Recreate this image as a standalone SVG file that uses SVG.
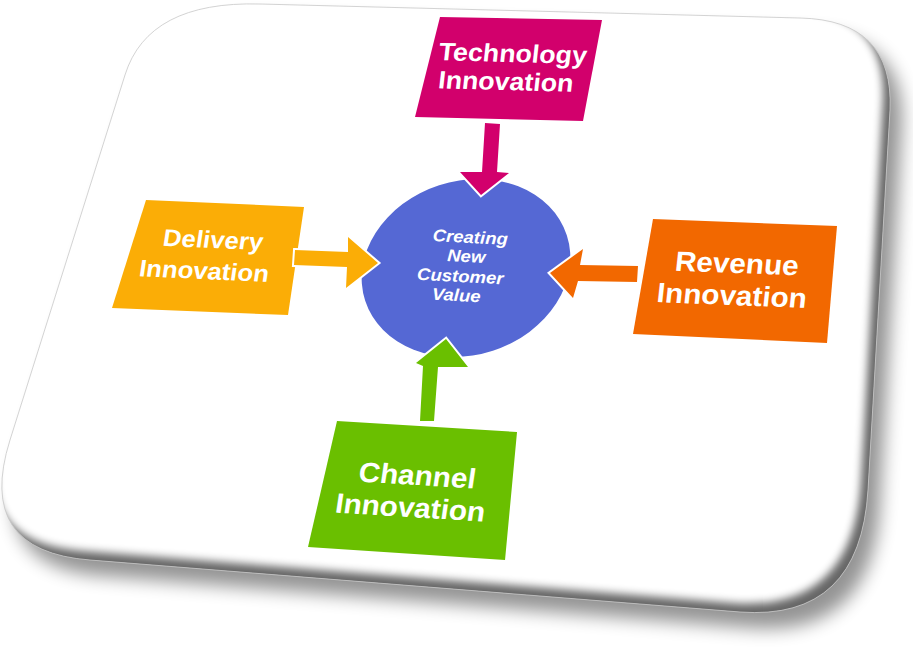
<svg xmlns="http://www.w3.org/2000/svg" width="913" height="667" viewBox="0 0 913 667">
<defs>
<style>
.lbl{font-family:"Liberation Sans",Arial,Helvetica,sans-serif;font-weight:bold;fill:#fff;text-anchor:middle}
.t25{font-size:25px}.t24{font-size:24px}.t28{font-size:28px}
.t17{font-size:17px;font-style:italic}
.arrow{stroke:#fff;stroke-width:4;stroke-linejoin:miter;paint-order:stroke}
</style>
<filter id="shadowBlur" x="-20%" y="-20%" width="140%" height="140%"><feGaussianBlur stdDeviation="9"/></filter>
<filter id="bevelBlur" x="-10%" y="-10%" width="120%" height="120%"><feGaussianBlur stdDeviation="4"/></filter>
<clipPath id="cardClip"><path d="M125,75 Q148,1 260,4 L800,18 Q894,20 890,110 L868,490 Q860,621 740,612 L90,560 Q-25,551 10,440 Z"/></clipPath>
</defs>
<rect width="913" height="667" fill="#fff"/>
<g id="card">
<path d="M125,75 Q148,1 260,4 L800,18 Q894,20 890,110 L868,490 Q860,621 740,612 L90,560 Q-25,551 10,440 Z" transform="translate(12,16)" fill="#000" opacity="0.42" filter="url(#shadowBlur)"/>
<path d="M125,75 Q148,1 260,4 L800,18 Q894,20 890,110 L868,490 Q860,621 740,612 L90,560 Q-25,551 10,440 Z" fill="#fff"/>
<g clip-path="url(#cardClip)">
<path fill-rule="evenodd" fill="#000" opacity="0.6" filter="url(#bevelBlur)" d="M-60,-60 H980 V730 H-60 Z M118,66 Q141,-8 253,-5 L793,9 Q887,11 883,101 L861,481 Q853,612 733,603 L83,551 Q-32,542 3,431 Z"/>
</g>
<path d="M125,75 Q148,1 260,4 L800,18 Q894,20 890,110 L868,490 Q860,621 740,612 L90,560 Q-25,551 10,440 Z" fill="none" stroke="#c8c8c8" stroke-width="0.8"/>
</g>
<g id="node-technology">
<polygon points="440,17 602,20 583,121 415,117" fill="#d2006c"/>
<text class="lbl t25" transform="translate(512,62) rotate(1.5) skewX(-5) scale(1.07,1)">Technology</text>
<text class="lbl t25" transform="translate(505,90) rotate(1.5) skewX(-5) scale(1.07,1)">Innovation</text>
</g>
<g id="node-delivery">
<polygon points="146,200 304,207 288,315 112,308" fill="#fbad06"/>
<text class="lbl t24" transform="translate(212,248) rotate(2.5) skewX(-6) scale(1.07,1)">Delivery</text>
<text class="lbl t24" transform="translate(203,279) rotate(2.5) skewX(-6) scale(1.07,1)">Innovation</text>
</g>
<g id="node-revenue">
<polygon points="653,219 837,226 827,343 633,334" fill="#f26800"/>
<text class="lbl t28" transform="translate(736,273) rotate(2.2) skewX(-4) scale(1.06,1)">Revenue</text>
<text class="lbl t28" transform="translate(731,305) rotate(2.2) skewX(-4) scale(1.06,1)">Innovation</text>
</g>
<g id="node-channel">
<polygon points="337,421 517,432 505,560 308,547" fill="#6abf00"/>
<text class="lbl t28" transform="translate(416,485) rotate(3.5) skewX(-5) scale(1.06,1)">Channel</text>
<text class="lbl t28" transform="translate(409,517) rotate(3.5) skewX(-5) scale(1.06,1)">Innovation</text>
</g>
<g id="node-value">
<ellipse cx="466" cy="268" rx="106" ry="87" transform="rotate(-18 466 268)" fill="#5568d4"/>
<text class="lbl t17" transform="translate(470,243) rotate(3) scale(1.09,1)">Creating</text>
<text class="lbl t17" transform="translate(466,262) rotate(3) scale(1.09,1)">New</text>
<text class="lbl t17" transform="translate(460,282) rotate(3) scale(1.09,1)">Customer</text>
<text class="lbl t17" transform="translate(456,301) rotate(3) scale(1.09,1)">Value</text>
</g>
<g id="connectors">
<polygon class="arrow" fill="#d2006c" points="485,123 500,124 497,172 509,173 481,195 460,172 482,172"/>
<polygon class="arrow" fill="#fbad06" points="295,250 348,252 348,237 378,263 346,288 347,267 294,265"/>
<polygon class="arrow" fill="#f26800" points="638,266 580,265 583,249 550,273 573,298 578,281 637,282"/>
<polygon class="arrow" fill="#6abf00" points="420,421 423,366 416,363 446,339 468,367 438,367 434,421"/>
</g>
</svg>
